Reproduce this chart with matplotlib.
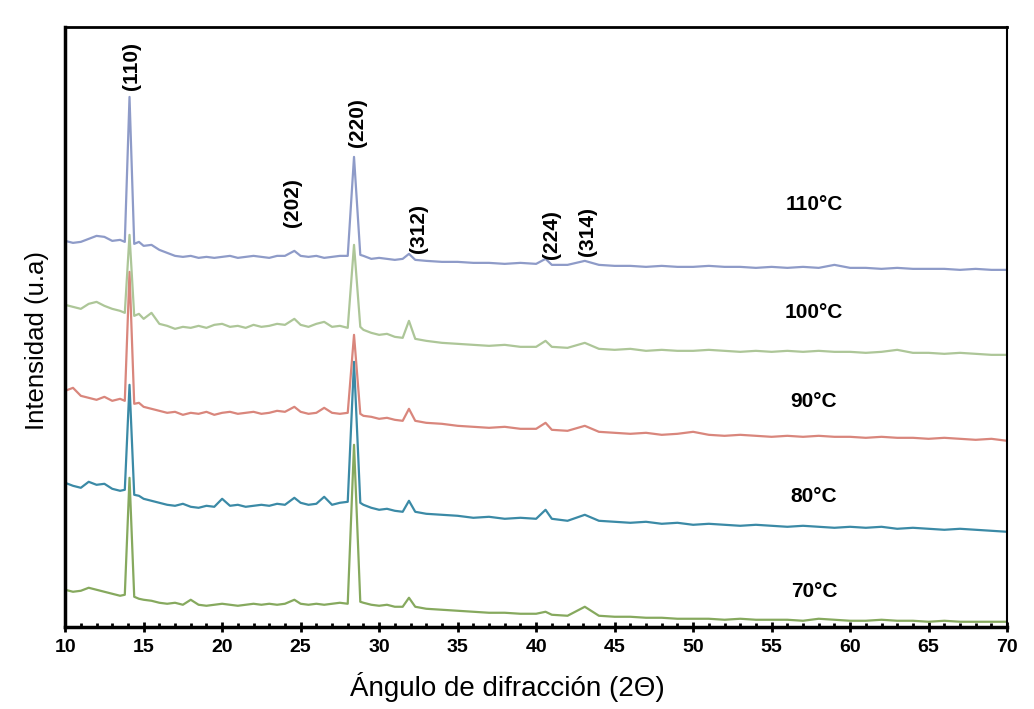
import matplotlib
matplotlib.use('Agg')
import matplotlib.pyplot as plt
from matplotlib.ticker import MultipleLocator

plt.rcParams['font.family'] = ['Liberation Sans', 'DejaVu Sans']

# 2-theta positions (degrees), shared by all patterns
two_theta = [10, 10.5, 11, 11.5, 12, 12.5, 13, 13.5,
             13.8, 14.1, 14.4, 14.7,
             15, 15.5, 16, 16.5, 17, 17.5, 18, 18.5, 19, 19.5,
             20, 20.5, 21, 21.5, 22, 22.5, 23, 23.5, 24,
             24.6,
             25, 25.5, 26, 26.5, 27, 27.5, 28,
             28.4, 28.8,
             29, 29.5, 30, 30.5, 31, 31.5,
             31.9, 32.3,
             33, 34, 35, 36, 37, 38, 39, 40,
             40.6,
             41, 42,
             43.1,
             44, 45, 46, 47, 48, 49, 50, 51, 52, 53, 54, 55, 56, 57, 58, 59,
             60, 61, 62, 63, 64, 65, 66, 67, 68, 69, 70]

# intensities (u.a.), already offset for stacking
i_110 = [386, 384, 385, 388, 391, 390, 386, 387,
         385, 530, 383, 385,
         381, 382, 377, 374, 371, 370, 371, 369, 370, 369,
         370, 371, 369, 370, 371, 370, 369, 371, 371,
         376,
         371, 370, 371, 369, 370, 371, 371,
         470, 372,
         371, 368, 369, 368, 367, 368,
         373, 367,
         366, 365, 365, 364, 364, 363, 364, 363,
         368,
         362, 362,
         366,
         362, 361, 361, 360, 361, 360, 360, 361, 360, 360, 359, 360, 359, 360, 359, 362,
         359, 359, 358, 359, 358, 358, 358, 357, 358, 357, 357]

i_100 = [322, 320, 318, 323, 325, 321, 318, 316,
         314, 392, 311, 313,
         308, 314, 303, 301, 298, 300, 299, 301, 299, 302,
         303, 300, 301, 299, 302, 300, 301, 303, 302,
         308,
         302, 300, 303, 305, 300, 301, 299,
         382, 300,
         297, 294, 292, 293, 290, 289,
         306, 288,
         286, 284, 283, 282, 281, 282, 280, 280,
         286,
         280, 279,
         284,
         278, 277, 278, 276, 277, 276, 276, 277, 276, 275, 276, 275, 276, 275, 276, 275,
         275, 274, 275, 277, 274, 274, 273, 274, 273, 272, 272]

i_90 = [236, 239, 231, 229, 227, 230, 226, 228,
        226, 355, 223, 224,
        220, 218, 216, 214, 215, 212, 214, 213, 215, 212,
        214, 215, 213, 214, 215, 213, 214, 216, 215,
        220,
        215, 213, 214, 219, 214, 213, 214,
        292, 213,
        211, 210, 208, 209, 207, 206,
        218, 206,
        204, 203, 201, 200, 199, 200, 198, 198,
        204,
        197, 196,
        201,
        195, 194, 193, 194, 192, 193, 195, 192, 191, 192, 191, 190, 191, 190, 191, 190,
        190, 189, 190, 189, 189, 188, 189, 188, 187, 188, 186]

i_80 = [144, 141, 139, 145, 142, 143, 138, 136,
        137, 242, 132, 131,
        128, 126, 124, 122, 121, 123, 120, 119, 121, 120,
        128, 121, 122, 120, 121, 122, 121, 123, 122,
        129,
        124, 122, 123, 130, 122, 124, 125,
        265, 124,
        122, 119, 117, 118, 116, 115,
        126, 115,
        113, 112, 111, 109, 110, 108, 109, 108,
        117,
        108, 106,
        112,
        106, 105, 104, 105, 103, 104, 102, 103, 102, 101, 102, 101, 100, 101, 100, 99,
        100, 99, 100, 98, 99, 98, 97, 98, 97, 96, 95]

i_70 = [37, 35, 36, 39, 37, 35, 33, 31,
        32, 149, 30, 28,
        27, 26, 24, 23, 24, 22, 27, 22, 21, 22,
        23, 22, 21, 22, 23, 22, 23, 22, 23,
        27,
        23, 22, 23, 22, 23, 24, 23,
        182, 25,
        24, 22, 21, 22, 20, 20,
        29, 20,
        18, 17, 16, 15, 14, 14, 13, 13,
        15,
        12, 11,
        20,
        11, 10, 10, 9, 9, 8, 8, 8, 7, 8, 7, 7, 7, 6, 8, 7,
        6, 6, 7, 6, 6, 5, 6, 5, 5, 5, 5]

temps = ['110°C', '100°C', '90°C', '80°C', '70°C']
series = [i_110, i_100, i_90, i_80, i_70]
colors = ['#8e9bc8', '#adc698', '#d9867c', '#3b8aa6', '#86a95e']
label_y = [422, 314, 225, 130, 35]

# Miller indices and where their labels sit
hkl = ['(110)', '(220)', '(202)', '(312)', '(224)', '(314)']
hkl_x = [14.2, 28.6, 24.5, 32.5, 41.0, 43.25]
hkl_y = [561, 504, 424, 398, 392, 395]


def plot_xrd():
    fig = plt.figure(figsize=(10.34, 7.09), dpi=100)
    ax = fig.add_axes([0.063, 0.116, 0.911, 0.846])

    # draw bottom first so the upper traces overlap like the original
    for temp, ys, c in reversed(list(zip(temps, series, colors))):
        ax.plot(two_theta, ys, color=c, lw=1.6)

    for temp, ly in zip(temps, label_y):
        ax.text(57.7, ly, temp, ha='center', va='center', fontsize=15,
                fontweight='bold')

    for lab, x, y in zip(hkl, hkl_x, hkl_y):
        ax.text(x, y, lab, rotation=90, ha='center', va='center',
                fontsize=15, fontweight='bold')

    ax.set_xlim(10, 70)
    ax.set_ylim(0, 600)
    ax.xaxis.set_major_locator(MultipleLocator(5))
    ax.xaxis.set_minor_locator(MultipleLocator(1))
    ax.tick_params(axis='x', which='major', direction='inout', length=7,
                   width=2, labelsize=14, pad=5)
    ax.tick_params(axis='x', which='minor', direction='in', length=3, width=2)
    for t in ax.get_xticklabels():
        t.set_fontweight('bold')
    ax.set_yticks([])

    ax.spines['left'].set_linewidth(2.5)
    ax.spines['bottom'].set_linewidth(2.5)
    ax.spines['top'].set_linewidth(2)
    ax.spines['right'].set_linewidth(1.5)

    ax.set_xlabel('Ángulo de difracción (2Θ)', fontsize=20)
    ax.xaxis.set_label_coords(0.47, -0.075)
    ax.set_ylabel('Intensidad (u.a)', fontsize=18.5)
    ax.yaxis.set_label_coords(-0.017, 0.477)

    fig.savefig('out.png', dpi=100)


if __name__ == '__main__':
    plot_xrd()
